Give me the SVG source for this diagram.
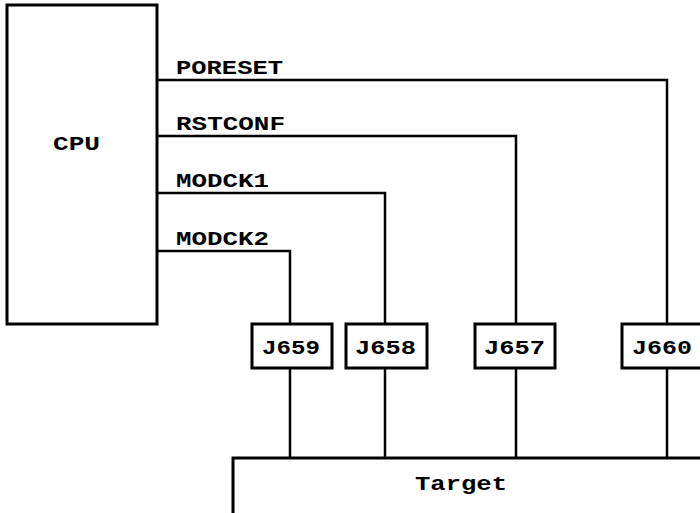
<svg xmlns="http://www.w3.org/2000/svg" width="700" height="513" viewBox="0 0 700 513">
<style>
.box{fill:#fff;stroke:#000;stroke-width:3}
.wire{fill:none;stroke:#000;stroke-width:2.5}
text{font-family:"Liberation Mono","Courier New",monospace;font-weight:bold;font-size:21px;fill:#000}
</style>
<rect width="700" height="513" fill="#fff"/>
<g id="connectors">
<path class="wire" d="M157 80H667V324M667 368V458"/>
<path class="wire" d="M157 136H516V324M516 368V458"/>
<path class="wire" d="M157 193H385V324M385 368V458"/>
<path class="wire" d="M157 251H290V324M290 368V458"/>
<text x="176" y="74" textLength="107" lengthAdjust="spacingAndGlyphs">PORESET</text>
<text x="176" y="130" textLength="109" lengthAdjust="spacingAndGlyphs">RSTCONF</text>
<text x="176" y="187" textLength="93" lengthAdjust="spacingAndGlyphs">MODCK1</text>
<text x="176" y="245" textLength="93" lengthAdjust="spacingAndGlyphs">MODCK2</text>
</g>
<g id="cpu">
<rect class="box" x="7" y="5" width="150" height="319"/>
<text x="53" y="150" textLength="47" lengthAdjust="spacingAndGlyphs">CPU</text>
</g>
<g id="j659">
<rect class="box" x="252" y="324" width="80" height="44"/>
<text x="262" y="354" textLength="58" lengthAdjust="spacingAndGlyphs">J659</text>
</g>
<g id="j658">
<rect class="box" x="346" y="324" width="81" height="44"/>
<text x="355" y="354" textLength="61" lengthAdjust="spacingAndGlyphs">J658</text>
</g>
<g id="j657">
<rect class="box" x="475" y="324" width="80" height="44"/>
<text x="484" y="354" textLength="61" lengthAdjust="spacingAndGlyphs">J657</text>
</g>
<g id="j660">
<rect class="box" x="622" y="324" width="80" height="44"/>
<text x="632" y="354" textLength="60" lengthAdjust="spacingAndGlyphs">J660</text>
</g>
<g id="target">
<rect class="box" x="233" y="458" width="500" height="100"/>
<text x="415" y="490" textLength="92" lengthAdjust="spacingAndGlyphs">Target</text>
</g>
</svg>
